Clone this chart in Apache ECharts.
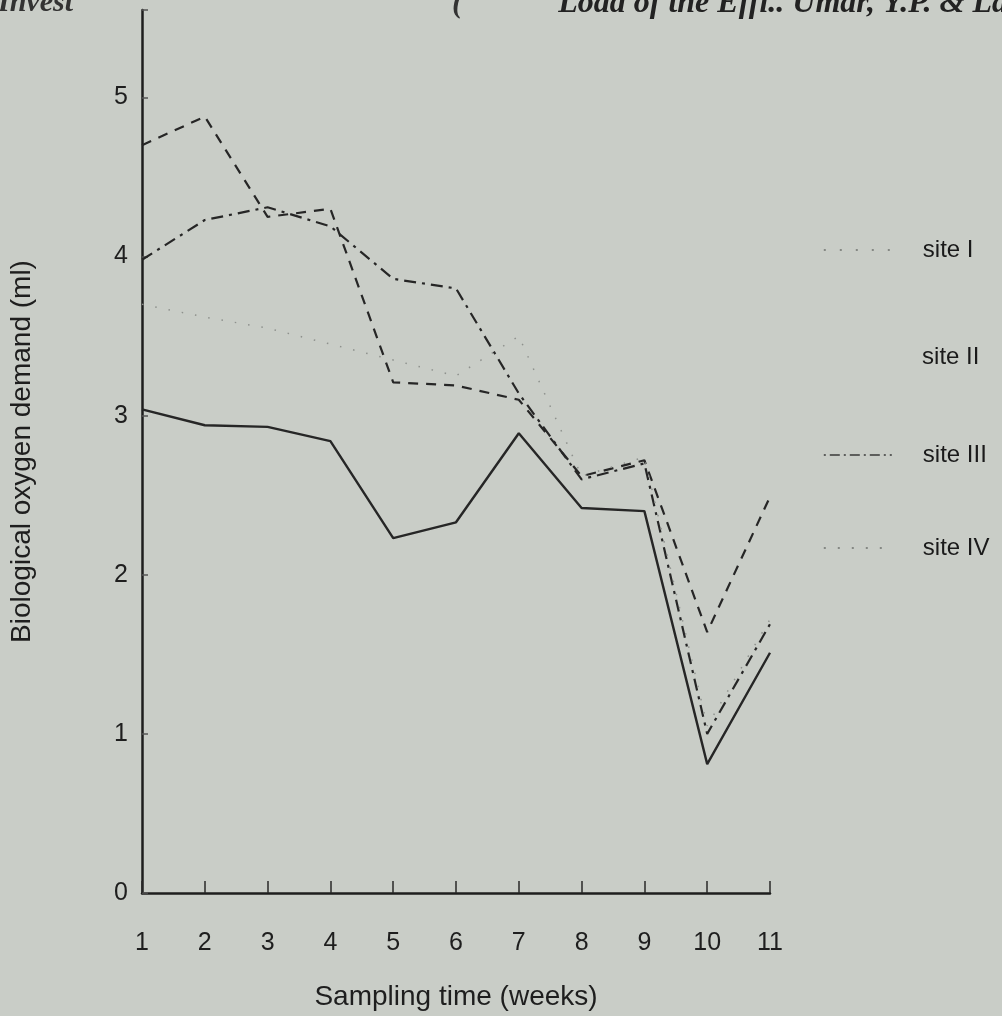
<!DOCTYPE html>
<html><head><meta charset="utf-8">
<script src="https://cdn.jsdelivr.net/npm/echarts@6/dist/echarts.min.js"></script>
<style>html,body{margin:0;padding:0;background:#c9cdc7;} #c{width:1002px;height:1016px;}</style>
</head><body><div id="c"></div>
<script>
const weeks = [1, 2, 3, 4, 5, 6, 7, 8, 9, 10, 11];
const siteNames = ['site I', 'site II', 'site III', 'site IV'];
const siteI   = [4.70, 4.88, 4.25, 4.30, 3.21, 3.19, 3.10, 2.62, 2.72, 1.64, 2.49];
const siteII  = [3.98, 4.23, 4.31, 4.19, 3.86, 3.80, 3.14, 2.60, 2.70, 1.00, 1.69];
const siteIII = [3.70, 3.62, 3.55, 3.45, 3.35, 3.25, 3.50, 2.62, 2.74, 1.05, 1.72];
const siteIV  = [3.04, 2.94, 2.93, 2.84, 2.23, 2.33, 2.89, 2.42, 2.40, 0.81, 1.51];
const yTicks = [0, 1, 2, 3, 4, 5];

const pairs = arr => weeks.map((w, i) => [w, arr[i]]);
const ink = '#262626';
const font = 'Liberation Sans';

const styles = [
  {color: ink, width: 2.2, type: [10, 8]},
  {color: ink, width: 2.2, type: [12, 6, 3, 6]},
  {color: '#8e918d', width: 1.5, type: [1.5, 12]},
  {color: ink, width: 2.4, type: 'solid'}
];
const legendLine = [
  {color: '#6f726e', width: 1.6, type: [2, 14]},
  {color: '#c9cdc7', width: 0.1, opacity: 0},
  {color: '#3a3a3a', width: 1.6, type: [2, 4, 10, 4]},
  {color: '#6f726e', width: 1.6, type: [2, 12]}
];
const legendTop = [233, 340, 438, 531];

const chart = echarts.init(document.getElementById('c'), null, {renderer: 'canvas'});
chart.setOption({
  backgroundColor: '#c9cdc7',
  animation: false,
  grid: {left: 140, right: 232, top: 10, bottom: 123},
  xAxis: {
    type: 'value', min: 1, max: 11, interval: 1,
    name: 'Sampling time (weeks)', nameLocation: 'middle', nameGap: 90,
    nameTextStyle: {fontFamily: font, fontSize: 28, color: '#1e1e1e'},
    axisLine: {lineStyle: {color: '#1e1e1e', width: 2.5}},
    axisTick: {inside: true, length: 12, lineStyle: {color: '#2a2a2a', width: 1.5}},
    axisLabel: {fontFamily: font, fontSize: 25, color: '#1e1e1e', margin: 38},
    splitLine: {show: false}
  },
  yAxis: {
    type: 'value', min: 0, max: 5.55, interval: 1,
    name: 'Biological oxygen demand (ml)', nameLocation: 'middle', nameGap: 106, nameRotate: 90,
    nameTextStyle: {fontFamily: font, fontSize: 28, color: '#1e1e1e'},
    axisLine: {show: true, lineStyle: {color: '#1e1e1e', width: 2.5}},
    axisTick: {show: true, inside: true, length: 6, lineStyle: {color: '#555', width: 1.5}},
    axisLabel: {fontFamily: font, fontSize: 25, color: '#1e1e1e', margin: 14,
      formatter: v => (yTicks.indexOf(v) >= 0 ? String(v) : '')},
    splitLine: {show: false}
  },
  legend: siteNames.map((n, i) => ({
    data: [{name: n, lineStyle: legendLine[i], itemStyle: {opacity: 0}}],
    left: 818, top: legendTop[i], itemWidth: 68, itemHeight: 14,
    textStyle: {fontFamily: font, fontSize: 24, color: '#1a1a1a', padding: [0, 0, 0, 26]}
  })),
  graphic: [
    {type: 'text', right: -6, top: -12, style: {text: 'Load of the Effl.. Umar, Y.P. & La', font: 'italic bold 32px "Liberation Serif"', fill: '#222'}},
    {type: 'text', left: 452, top: -12, style: {text: '(', font: 'italic bold 32px "Liberation Serif"', fill: '#333'}},
    {type: 'text', left: -2, top: -12, style: {text: 'Invest', font: 'italic bold 30px "Liberation Serif"', fill: '#333'}}
  ],
  series: [siteI, siteII, siteIII, siteIV].map((d, i) => ({
    name: siteNames[i], type: 'line', data: pairs(d),
    symbol: 'none', lineStyle: styles[i], itemStyle: {color: styles[i].color},
    silent: true
  }))
});
</script></body></html>
